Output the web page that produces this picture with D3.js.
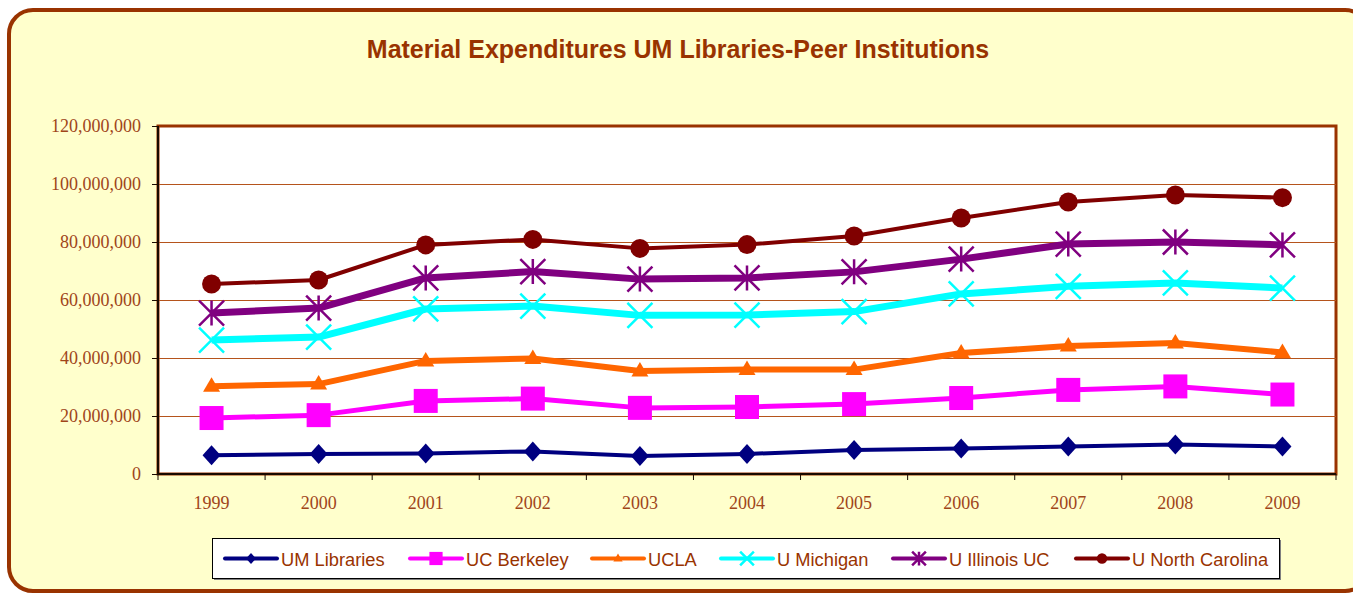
<!DOCTYPE html>
<html>
<head>
<meta charset="utf-8">
<script src="https://cdn.jsdelivr.net/npm/d3@7"></script>
<style>
	body { margin: 0; background: #ffffff; }
	.title { font-family: Arial, "Liberation Sans", sans-serif; font-weight: bold; font-size: 25px; fill: #993300; }
	.axisText { font-family: "Liberation Serif", "Times New Roman", serif; font-size: 18px; fill: #a0451a; }
	.legendText { font-family: Arial, "Liberation Sans", sans-serif; font-size: 18.3px; fill: #993300; }
</style>
</head>
<body>
<script>

//Chart data
let years = ["1999", "2000", "2001", "2002", "2003", "2004", "2005", "2006", "2007", "2008", "2009"];
let yTicks = [0, 20000000, 40000000, 60000000, 80000000, 100000000, 120000000];

let umLibraries = [6.5, 6.9, 7.1, 7.8, 6.2, 6.9, 8.3, 8.8, 9.5, 10.2, 9.5];
let ucBerkeley = [19.3, 20.3, 25.2, 26.0, 22.8, 23.1, 24.1, 26.2, 29.0, 30.2, 27.4];
let ucla = [30.3, 31.0, 39.0, 39.8, 35.5, 36.0, 36.0, 41.7, 44.1, 45.2, 41.9];
let uMichigan = [46.2, 47.2, 56.9, 57.9, 54.7, 54.8, 56.0, 62.1, 64.7, 65.9, 64.1];
let uIllinois = [55.5, 57.2, 67.6, 69.8, 67.2, 67.6, 69.7, 74.1, 79.3, 80.0, 79.0];
let uNorthCarolina = [65.5, 66.9, 79.0, 80.9, 77.8, 79.1, 82.1, 88.3, 93.8, 96.2, 95.3];

let seriesNames = ["UM Libraries", "UC Berkeley", "UCLA", "U Michigan", "U Illinois UC", "U North Carolina"];

window.onload = drawChart();

function drawChart(){

	let width = 1353;
	let height = 595;

	let svg = d3.select("body")
		.append("svg")
		.attr("width", width)
		.attr("height", height);

	//Outer chart frame
	svg.append("rect")
		.attr("x", 9)
		.attr("y", 10)
		.attr("width", 1360)
		.attr("height", 581)
		.attr("rx", 24)
		.attr("fill", "#ffffcc")
		.attr("stroke", "#993300")
		.attr("stroke-width", 4);

	svg.append("text")
		.attr("class", "title")
		.attr("x", 678)
		.attr("y", 58)
		.attr("text-anchor", "middle")
		.text("Material Expenditures UM Libraries-Peer Institutions");

	let plot = {left: 158, top: 126, right: 1336, bottom: 474};

	let x = d3.scaleBand()
		.domain(years)
		.range([plot.left, plot.right]);

	let y = d3.scaleLinear()
		.domain([0, 120000000])
		.range([plot.bottom, plot.top]);

	//Plot area
	svg.append("rect")
		.attr("x", plot.left)
		.attr("y", plot.top)
		.attr("width", plot.right - plot.left)
		.attr("height", plot.bottom - plot.top)
		.attr("fill", "#ffffff")
		.attr("stroke", "#993300")
		.attr("stroke-width", 3);

	//Gridlines
	svg.selectAll(".grid")
		.data(yTicks.slice(1, -1))
		.enter()
		.append("line")
		.attr("x1", plot.left)
		.attr("x2", plot.right)
		.attr("y1", d => y(d) + 0.5)
		.attr("y2", d => y(d) + 0.5)
		.attr("stroke", "#b5541c")
		.attr("stroke-width", 1);

	//Y axis
	let yAxis = svg.append("g")
		.attr("transform", "translate(" + plot.left + ",0)")
		.call(d3.axisLeft(y).tickValues(yTicks).tickSize(6).tickPadding(11).tickFormat(d3.format(",")));

	//X axis
	let xAxis = svg.append("g")
		.attr("transform", "translate(0," + plot.bottom + ")")
		.call(d3.axisBottom(x).tickSize(0).tickPadding(22));

	[yAxis, xAxis].forEach(function(g){
		g.attr("font-size", null).attr("font-family", null);
		g.select(".domain").attr("stroke", "#1a0a00").attr("stroke-width", 2);
		g.selectAll("line").attr("stroke", "#1a0a00");
		g.selectAll("text").attr("class", "axisText").attr("fill", null);
	});
	yAxis.select(".domain").attr("d", "M0," + plot.top + "V" + plot.bottom);
	xAxis.select(".domain").attr("d", "M" + plot.left + ",0H" + plot.right);

	//Tick marks between categories
	xAxis.selectAll(".sep")
		.data(years.concat(["end"]))
		.enter()
		.append("line")
		.attr("x1", (d, i) => plot.left + i * x.step())
		.attr("x2", (d, i) => plot.left + i * x.step())
		.attr("y1", 0)
		.attr("y2", 6)
		.attr("stroke", "#1a0a00");

	let series = [
		{name: seriesNames[0], values: umLibraries, color: "#000080", width: 4, marker: "diamond"},
		{name: seriesNames[1], values: ucBerkeley, color: "#ff00ff", width: 5, marker: "square"},
		{name: seriesNames[2], values: ucla, color: "#ff6600", width: 6, marker: "triangle"},
		{name: seriesNames[3], values: uMichigan, color: "#00ffff", width: 7, marker: "x"},
		{name: seriesNames[4], values: uIllinois, color: "#800080", width: 7, marker: "star"},
		{name: seriesNames[5], values: uNorthCarolina, color: "#800000", width: 4, marker: "circle"}
	];

	let line = d3.line()
		.x((d, i) => x(years[i]) + x.bandwidth() / 2)
		.y(d => y(d * 1000000));

	//Draw a marker of the given type at cx, cy
	function marker(g, type, color, cx, cy, scale){
		let s = scale || 1;
		if (type == "diamond"){
			g.append("path").attr("d", "M0,-10L9,0L0,10L-9,0Z")
				.attr("transform", "translate(" + cx + "," + cy + ") scale(" + s + ")")
				.attr("fill", color);
		} else if (type == "square"){
			g.append("rect").attr("x", cx - 12 * s).attr("y", cy - 12 * s)
				.attr("width", 24 * s).attr("height", 24 * s).attr("fill", color);
		} else if (type == "triangle"){
			g.append("path").attr("d", "M0,-9L8.5,5.5L-8.5,5.5Z")
				.attr("transform", "translate(" + cx + "," + cy + ") scale(" + s + ")")
				.attr("fill", color);
		} else if (type == "x"){
			let r = 12.5 * s;
			g.append("path").attr("d", "M" + (cx - r) + "," + (cy - r) + "L" + (cx + r) + "," + (cy + r) + "M" + (cx - r) + "," + (cy + r) + "L" + (cx + r) + "," + (cy - r))
				.attr("stroke", color).attr("stroke-width", 2.5).attr("fill", "none");
		} else if (type == "star"){
			let r = 12.5 * s;
			g.append("path").attr("d", "M" + (cx - r) + "," + (cy - r) + "L" + (cx + r) + "," + (cy + r) + "M" + (cx - r) + "," + (cy + r) + "L" + (cx + r) + "," + (cy - r) + "M" + cx + "," + (cy - r) + "L" + cx + "," + (cy + r))
				.attr("stroke", color).attr("stroke-width", 2.5).attr("fill", "none");
		} else if (type == "circle"){
			g.append("circle").attr("cx", cx).attr("cy", cy).attr("r", 9.5 * s).attr("fill", color);
		}
	}

	series.forEach(function(sr){
		let g = svg.append("g");
		g.append("path")
			.datum(sr.values)
			.attr("d", line)
			.attr("fill", "none")
			.attr("stroke", sr.color)
			.attr("stroke-width", sr.width)
			.attr("stroke-linejoin", "round");
		sr.values.forEach(function(v, i){
			marker(g, sr.marker, sr.color, x(years[i]) + x.bandwidth() / 2, y(v * 1000000));
		});
	});

	//Legend
	svg.append("rect")
		.attr("x", 214)
		.attr("y", 540)
		.attr("width", 1067)
		.attr("height", 40)
		.attr("fill", "#808080");
	svg.append("rect")
		.attr("x", 212.5)
		.attr("y", 538.5)
		.attr("width", 1067)
		.attr("height", 40)
		.attr("fill", "#ffffff")
		.attr("stroke", "#000000")
		.attr("stroke-width", 1);

	let legendX = [225, 410, 592, 721, 893, 1076];
	let legend = svg.selectAll(".legendItem")
		.data(series)
		.enter()
		.append("g")
		.attr("class", "legendItem")
		.attr("transform", (d, i) => "translate(" + legendX[i] + ",558.5)");

	legend.append("line")
		.attr("x1", 0)
		.attr("x2", 52)
		.attr("stroke", d => d.color)
		.attr("stroke-width", 4)
		.attr("stroke-linecap", "round");

	legend.each(function(d){
		marker(d3.select(this), d.marker, d.color, 26, 0, 0.55);
	});

	legend.append("text")
		.attr("class", "legendText")
		.attr("x", 56)
		.attr("y", 7)
		.text(d => d.name);
}
</script>
</body>
</html>
